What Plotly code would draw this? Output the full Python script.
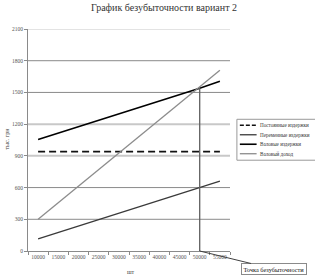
import plotly.graph_objects as go

# ---- data ----
quantity = [10000, 15000, 20000, 25000, 30000, 35000, 40000, 45000, 50000, 55000]
fixed_costs = [940, 940, 940, 940, 940, 940, 940, 940, 940, 940]
variable_costs = [115, 175, 235, 295, 355, 415, 480, 540, 600, 660]
gross_costs = [1055, 1115, 1175, 1235, 1295, 1355, 1420, 1480, 1540, 1605]
gross_revenue = [300, 457, 613, 770, 927, 1083, 1240, 1397, 1553, 1710]
series_names = ["Постоянные издержки", "Переменные издержки",
                "Валовые издержки", "Валовый доход"]
y_ticks = [0, 300, 600, 900, 1200, 1500, 1800, 2100]
break_even_q = 50000
break_even_value = 1545
title_text = "График безубыточности вариант 2"
y_title = "тыс. грн"
x_title = "шт"
break_even_label = "Точка безубыточности"

W, H = 315, 279
L, R, T, B = 25, 85, 28.5, 28
PW, PH = W - L - R, H - T - B
FONT = "Liberation Serif"


def px(x):
    return (x - L) / PW


def py(y):
    return (H - B - y) / PH


styles = [
    dict(color="#111111", width=1.6, dash="7px,4px"),
    dict(color="#3a3a3a", width=1.3, dash="solid"),
    dict(color="#000000", width=1.6, dash="solid"),
    dict(color="#8c8c8c", width=1.3, dash="solid"),
]
series = [fixed_costs, variable_costs, gross_costs, gross_revenue]

fig = go.Figure()
for name, vals, st in zip(series_names, series, styles):
    fig.add_trace(go.Scatter(x=quantity, y=vals, mode="lines", name=name,
                             line=st, showlegend=False))

shapes = []
# gridlines
for v in y_ticks[1:]:
    light = v in (900, 1200, 2100)
    shapes.append(dict(type="line", xref="x domain", yref="y", x0=0, x1=1,
                       y0=v, y1=v, layer="below",
                       line=dict(color="#c8c8c8" if light else "#8a8a8a",
                                 width=2 if light and v != 2100 else 1)))
# break-even vertical line
shapes.append(dict(type="line", xref="x", yref="y", x0=break_even_q, x1=break_even_q,
                   y0=0, y1=break_even_value, line=dict(color="#606060", width=1.3)))

# custom legend
shapes.append(dict(type="rect", xref="paper", yref="paper",
                   x0=px(237), x1=px(330), y0=py(160), y1=py(119),
                   line=dict(color="#9a9a9a", width=1), fillcolor="white"))
annotations = []
for i, (name, st) in enumerate(zip(series_names, styles)):
    yy = 125 + i * 9.5
    shapes.append(dict(type="line", xref="paper", yref="paper",
                       x0=px(240), x1=px(257), y0=py(yy), y1=py(yy),
                       line=dict(color=st["color"], width=st["width"],
                                 dash="4px,2px" if st["dash"] != "solid" else "solid")))
    annotations.append(dict(xref="paper", yref="paper", x=px(258.5), y=py(yy),
                            xanchor="left", yanchor="middle", showarrow=False,
                            text=name, font=dict(family=FONT, size=5.1, color="#333333")))

# axis titles
annotations.append(dict(xref="paper", yref="paper", x=px(4), y=py(138),
                        text=y_title, textangle=-90, showarrow=False,
                        xanchor="center", yanchor="middle",
                        font=dict(family=FONT, size=6, color="#444444")))
annotations.append(dict(xref="paper", yref="paper", x=px(130), y=py(272),
                        text=x_title, showarrow=False,
                        xanchor="center", yanchor="middle",
                        font=dict(family=FONT, size=6, color="#444444")))
# break-even label with leader line
annotations.append(dict(xref="x", yref="y", x=break_even_q, y=0,
                        text=break_even_label, showarrow=True, arrowhead=0,
                        arrowwidth=1, arrowcolor="#404040",
                        ax=74, ay=18, bordercolor="#8a8a8a", borderwidth=1,
                        borderpad=1.5, bgcolor="white",
                        font=dict(family=FONT, size=6.3, color="#111111")))

fig.update_layout(
    width=W, height=H,
    margin=dict(l=L, r=R, t=T, b=B),
    paper_bgcolor="white", plot_bgcolor="white",
    title=dict(text=title_text, x=164 / W, y=1 - 7 / H, xref="container",
               yref="container", xanchor="center", yanchor="middle",
               font=dict(family=FONT, size=10, color="#333333")),
    shapes=shapes, annotations=annotations,
    showlegend=False,
)
fig.update_xaxes(range=[7500, 57500], tickvals=quantity,
                 ticktext=[str(q) for q in quantity],
                 ticks="", showgrid=False, zeroline=False,
                 showline=True, linecolor="#8a8a8a", linewidth=1,
                 tickfont=dict(family=FONT, size=5.5, color="#555555"),
                 minor=dict(tick0=7500, dtick=5000, ticks="outside", ticklen=3,
                            tickcolor="#8a8a8a", showgrid=False))
fig.update_yaxes(range=[0, 2100], tickvals=y_ticks, ticks="outside", ticklen=3,
                 tickcolor="#8a8a8a", showgrid=False, zeroline=False,
                 showline=True, linecolor="#8a8a8a", linewidth=1,
                 tickfont=dict(family=FONT, size=5.5, color="#555555"))

fig.write_html("out.html")
